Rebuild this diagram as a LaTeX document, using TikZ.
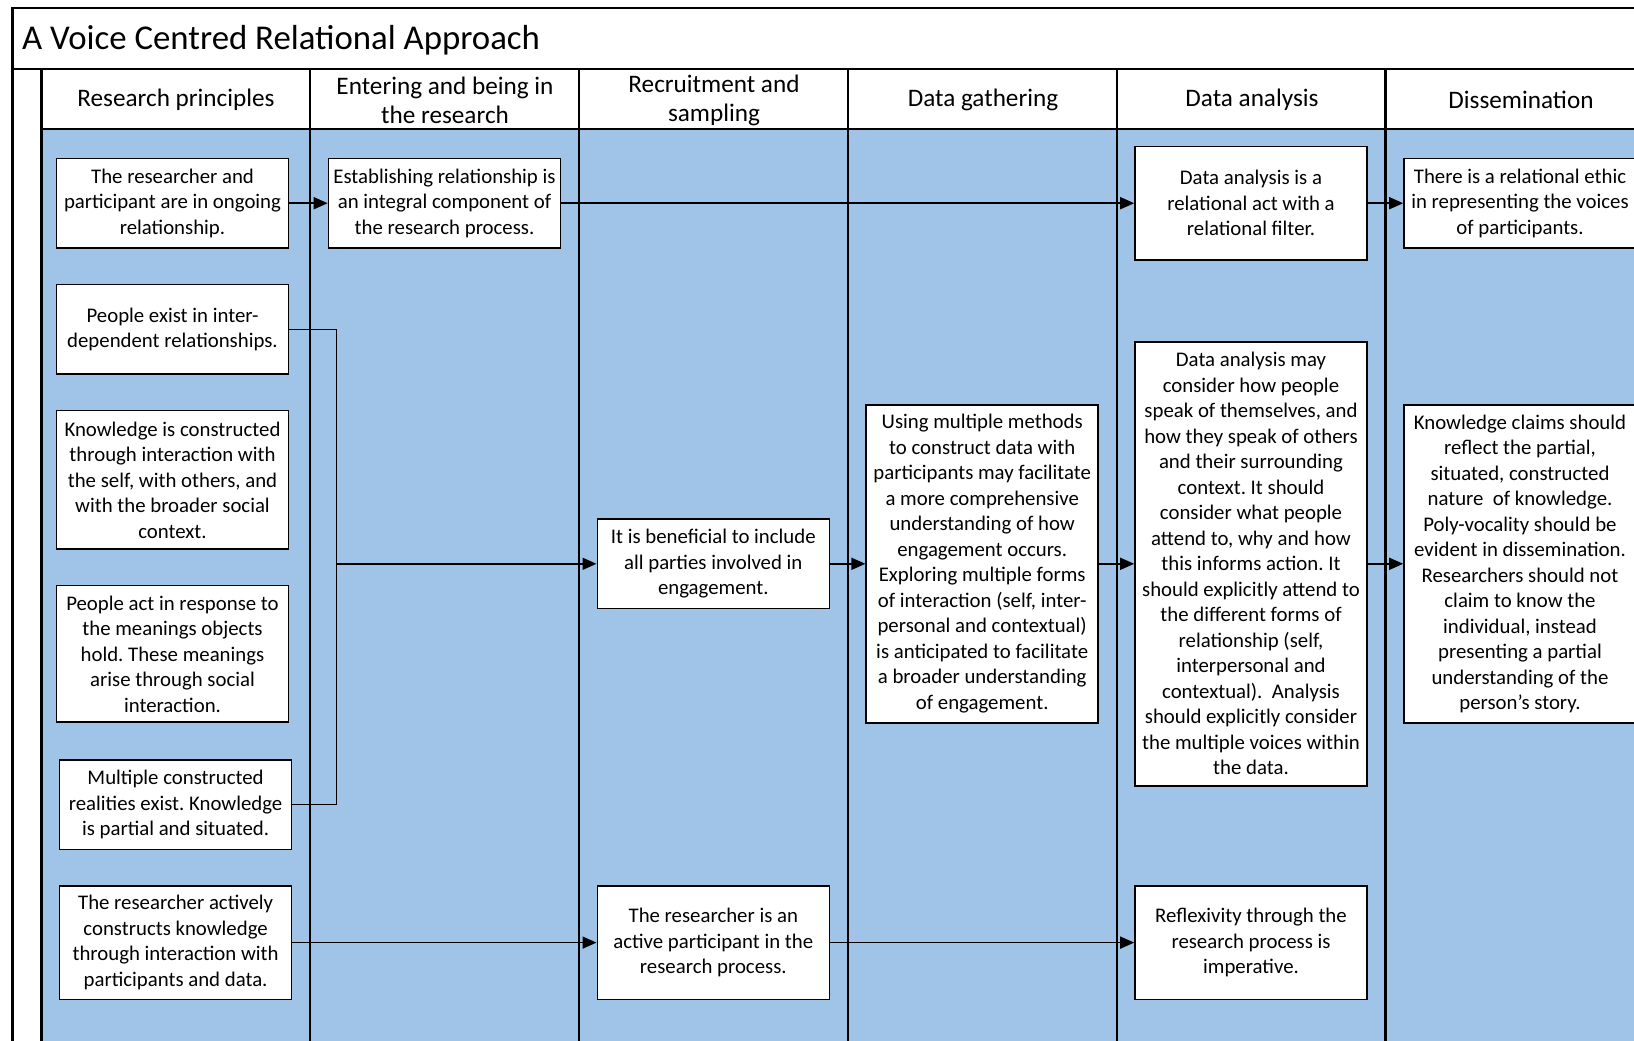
\documentclass[tikz,border=0pt]{standalone}
\usepackage{fontspec}
\setmainfont{Carlito}
\usetikzlibrary{arrows.meta}
\definecolor{lanefill}{RGB}{160,196,231}
\frenchspacing

\begin{document}
\begin{tikzpicture}[x=0.5pt,y=-0.5pt,
    note/.style={draw, line width=0.8pt, fill=white, align=center, inner sep=2pt,
        minimum width=116pt, font=\fontsize{10.4}{12.75}\selectfont},
    lanehead/.style={align=center, font=\fontsize{12.6}{14.5}\selectfont},
    link/.style={line width=0.8pt, -{Triangle[length=7pt,width=6pt]}}]
    \useasboundingbox (0,0) rectangle (1634,1040);
    \clip (0,0) rectangle (1634,1040);
    \fill[white] (0,0) rectangle (1634,1040);
    \fill[lanefill] (41.5,129) rectangle (1700,1100);
    \draw[line width=1.1pt] (12.5,1100) -- (12.5,8.3) -- (1700,8.3);
    \draw[line width=1.1pt] (12.5,68.8) -- (1700,68.8);
    \draw[line width=1.1pt] (41.5,129) -- (1700,129);
    \foreach \x in {41.5,310.3,579.1,847.9,1116.7,1385.5} {
        \draw[line width=1.1pt] (\x,68.8) -- (\x,1100);
    }
    \node[anchor=west, font=\fontsize{17.4}{21}\selectfont] (title) at (15,40.5) {A Voice Centred Relational Approach};
    \foreach \i/\x/\txt in {1/176/Research principles,2/445/Entering and being in\\the research,
        3/714/Recruitment and\\sampling,4/983/Data gathering,5/1252/Data analysis,6/1521/Dissemination} {
        \node[lanehead] (h\i) at (\x,100) {\txt};
    }
    \node[note, minimum height=44.8pt] (rp1) at (172.5,203.2) {The researcher and\\participant are in ongoing\\relationship.};
    \node[note, minimum height=44.8pt] (rp2) at (172.5,329.3) {People exist in inter-\\dependent relationships.};
    \node[note, minimum height=69.3pt] (rp3) at (172.5,479.9) {Knowledge is constructed\\through interaction with\\the self, with others, and\\with the broader social\\context.};
    \node[note, minimum height=68.3pt] (rp4) at (172.5,653.9) {People act in response to\\the meanings objects\\hold. These meanings\\arise through social\\interaction.};
    \node[note, minimum height=44.8pt] (rp5) at (175.6,804.5) {Multiple constructed\\realities exist. Knowledge\\is partial and situated.};
    \node[note, minimum height=56.8pt] (rp6) at (175.6,942.6) {The researcher actively\\constructs knowledge\\through interaction with\\participants and data.};
    \node[note, minimum height=44.8pt] (enter) at (444.5,203.2) {Establishing relationship is\\an integral component of\\the research process.};
    \node[note, minimum height=44.8pt] (recruit1) at (713.3,563.8) {It is beneficial to include\\all parties involved in\\engagement.};
    \node[note, minimum height=56.8pt] (recruit2) at (713.3,942.6) {The researcher is an\\active participant in the\\research process.};
    \node[note, minimum height=158.9pt] (gather) at (982.2,563.8) {Using multiple methods\\to construct data with\\participants may facilitate\\a more comprehensive\\understanding of how\\engagement occurs.\\Exploring multiple forms\\of interaction (self, inter-\\personal and contextual)\\is anticipated to facilitate\\a broader understanding\\of engagement.};
    \node[note, minimum height=56.8pt] (anal1) at (1251,203.2) {Data analysis is a\\relational act with a\\relational filter.};
    \node[note, minimum height=222pt] (anal2) at (1251,563.8) {Data analysis may\\consider how people\\speak of themselves, and\\how they speak of others\\and their surrounding\\context. It should\\consider what people\\attend to, why and how\\this informs action. It\\should explicitly attend to\\the different forms of\\relationship (self,\\interpersonal and\\contextual).~ Analysis\\should explicitly consider\\the multiple voices within\\the data.};
    \node[note, minimum height=56.8pt] (anal3) at (1251,942.6) {Reflexivity through the\\research process is\\imperative.};
    \node[note, minimum height=44.8pt] (diss1) at (1520,203.2) {There is a relational ethic\\in representing the voices\\of participants.};
    \node[note, minimum height=158.9pt] (diss2) at (1520,563.8) {Knowledge claims should\\reflect the partial,\\situated, constructed\\nature~ of knowledge.\\Poly-vocality should be\\evident in dissemination.\\Researchers should not\\claim to know the\\individual, instead\\presenting a partial\\understanding of the\\person’s story.};
    \coordinate (bus) at (336.6,563.8);
    \draw[link] (rp1) -- (enter);
    \draw[link] (enter) -- (anal1);
    \draw[link] (anal1) -- (diss1);
    \draw[line width=0.8pt] (rp2.east) -| (bus) |- (rp5.east);
    \draw[link] (bus) -- (recruit1);
    \draw[link] (recruit1) -- (gather);
    \draw[link] (gather) -- (anal2);
    \draw[link] (anal2) -- (diss2);
    \draw[link] (rp6) -- (recruit2);
    \draw[link] (recruit2) -- (anal3);
\end{tikzpicture}
\end{document}
